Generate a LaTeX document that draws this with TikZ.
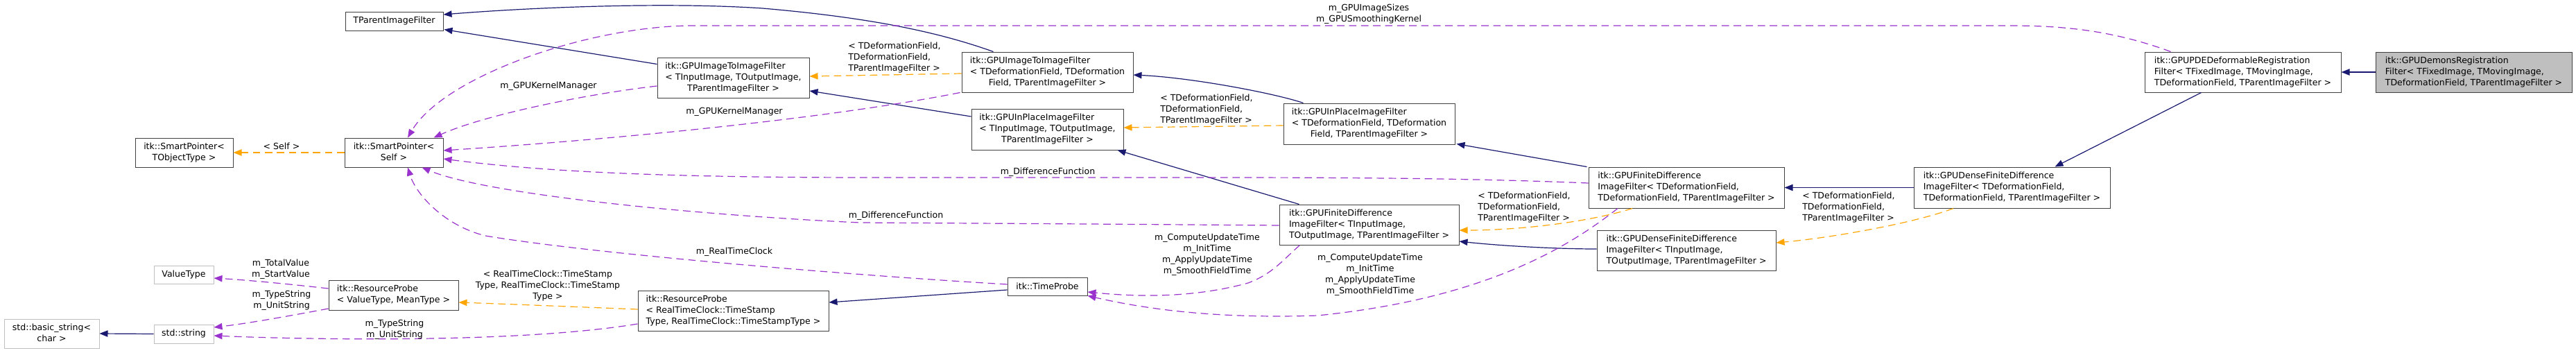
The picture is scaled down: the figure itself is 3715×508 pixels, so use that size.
\documentclass[tikz,border=0pt]{standalone}
\usepackage{fontspec}
\setmainfont{DejaVu Sans}
\usetikzlibrary{arrows.meta,calc}
\definecolor{navy}{HTML}{191970}
\definecolor{purp}{HTML}{9A32CD}
\definecolor{orng}{HTML}{FFA500}
\definecolor{boxgray}{HTML}{BFBFBF}
\definecolor{bordr}{HTML}{404040}
\newcommand\dlab[2]{\begin{tabular}{@{}l@{}}#1\\\multicolumn{1}{@{}c@{}}{#2}\end{tabular}}
\begin{document}
\begin{tikzpicture}[x=0.75pt,y=-0.75pt,
  font=\fontsize{9.4}{12}\selectfont,
  box/.style 2 args={draw=bordr,line width=0.75pt,fill=white,inner sep=0pt,
    minimum width=#1*0.75pt,minimum height=#2*0.75pt},
  gbox/.style 2 args={box={#1}{#2},draw=boxgray},
  inh/.style={navy,line width=0.9pt,-{Triangle[length=9pt,width=7pt]}},
  tmpl/.style={orng,line width=0.9pt,dash pattern=on 8pt off 5pt,-{Triangle[length=9pt,width=7pt]}},
  use/.style={purp,line width=0.9pt,dash pattern=on 8pt off 5pt,-{Triangle[length=9pt,width=7pt]}},
  lbl/.style={inner sep=0pt,align=center},
  lbll/.style={inner sep=0pt,align=left,anchor=west}]
\useasboundingbox (0,0) rectangle (3715,508);

% nodes
\node[box={141}{27}] (tpif) at (568.5,30.5) {TParentImageFilter};
\node[box={141}{42}] (spO) at (265.5,220) {\dlab{itk::SmartPointer<}{TObjectType >}};
\node[box={142}{42}] (spS) at (568,220) {\dlab{itk::SmartPointer<}{Self >}};
\node[gbox={86}{26}] (vt) at (265,396) {ValueType};
\node[box={187}{43}] (rpV) at (567.5,425.5) {\dlab{itk::ResourceProbe}{< ValueType, MeanType >}};
\node[gbox={137}{42}] (bs) at (74.5,481) {\dlab{std::basic\_string<}{char >}};
\node[gbox={86}{27}] (ss) at (265,481.5) {std::string};
\node[box={219}{58}] (gi2iI) at (1057.5,112) {\dlab{itk::GPUImageToImageFilter\\< TInputImage, TOutputImage,}{TParentImageFilter >}};
\node[box={275}{58}] (rpR) at (1057.5,448) {\dlab{itk::ResourceProbe\\< RealTimeClock::TimeStamp}{Type, RealTimeClock::TimeStampType >}};
\node[box={247}{58}] (gi2iD) at (1510.5,104) {\dlab{itk::GPUImageToImageFilter\\< TDeformationField, TDeformation}{Field, TParentImageFilter >}};
\node[box={219}{59}] (gipI) at (1510.5,186.5) {\dlab{itk::GPUInPlaceImageFilter\\< TInputImage, TOutputImage,}{TParentImageFilter >}};
\node[box={115}{26}] (tp) at (1510.5,413) {itk::TimeProbe};
\node[box={247}{59}] (gipD) at (1974.5,178.5) {\dlab{itk::GPUInPlaceImageFilter\\< TDeformationField, TDeformation}{Field, TParentImageFilter >}};
\node[box={259}{58}] (gfdI) at (1974.5,324) {\dlab{itk::GPUFiniteDifference\\ImageFilter< TInputImage,}{TOutputImage, TParentImageFilter >}};
\node[box={282}{59}] (gfdD) at (2432,270.5) {\dlab{itk::GPUFiniteDifference\\ImageFilter< TDeformationField,}{TDeformationField, TParentImageFilter >}};
\node[box={258}{58}] (gdI) at (2432,361) {\dlab{itk::GPUDenseFiniteDifference\\ImageFilter< TInputImage,}{TOutputImage, TParentImageFilter >}};
\node[box={283}{59}] (gdD) at (2901.5,270.5) {\dlab{itk::GPUDenseFiniteDifference\\ImageFilter< TDeformationField,}{TDeformationField, TParentImageFilter >}};
\node[box={283}{58}] (pde) at (3234.5,104) {\dlab{itk::GPUPDEDeformableRegistration\\Filter< TFixedImage, TMovingImage,}{TDeformationField, TParentImageFilter >}};
\node[box={283}{58},fill=boxgray] (dem) at (3567.5,104) {\dlab{itk::GPUDemonsRegistration\\Filter< TFixedImage, TMovingImage,}{TDeformationField, TParentImageFilter >}};

% inheritance (solid navy)
\draw[inh] (dem.west) -- (pde.east);
\draw[inh] ($(pde.south)+(-60,0)$) -- ($(gdD.north)+(62,0)$);
\draw[inh] (gdD.west) -- (gfdD.east);
\draw[inh] ($(gfdD.north west)+(-2,0)$) -- ($(gipD.south east)+(2,-1)$);
\draw[inh] ($(gdI.west)+(0,-2)$) .. controls (2240,359) and (2160,354) .. ($(gfdI.east)+(0,24)$);
\draw[inh] ($(gipD.north west)+(29,0)$) .. controls (1840,135) and (1720,112) .. ($(gi2iD.east)+(0,4)$);
\draw[inh] ($(gfdI.north west)+(29,0)$) -- ($(gipI.south east)+(-9,0)$);
\draw[inh] ($(gi2iD.north)+(-78,0)$) .. controls (1350,45) and (1250,25) .. (1100,12)
   .. controls (950,2) and (750,12) .. ($(tpif.east)+(0,-9.5)$);
\draw[inh] ($(gi2iI.north west)+(0,10)$) -- ($(tpif.south east)+(1,-2)$);
\draw[inh] ($(gipI.west)+(0,-18.5)$) -- ($(gi2iI.east)+(0,19)$);
\draw[inh] ($(tp.west)+(0,5)$) -- ($(rpR.east)+(0,-12)$);
\draw[inh] (ss.west) -- (bs.east);

% template instantiation (orange dashed)
\draw[tmpl] ($(gdD.south)+(-84.5,0)$) .. controls (2760,322) and (2640,343) .. ($(gdI.east)+(0,-11)$);
\node[lbll] (lab4) at (2599,299) {< TDeformationField,\\TDeformationField,\\TParentImageFilter >};
\draw[tmpl] ($(gfdD.south)+(-78,0)$) .. controls (2300,318) and (2200,332) .. ($(gfdI.east)+(0,8)$);
\node[lbll] (lab6) at (2131,299) {< TDeformationField,\\TDeformationField,\\TParentImageFilter >};
\draw[tmpl] ($(gipD.west)+(0,2.5)$) -- ($(gipI.east)+(0,-2.5)$);
\node[lbll] (lab9) at (1673,158) {< TDeformationField,\\TDeformationField,\\TParentImageFilter >};
\draw[tmpl] ($(gi2iD.west)+(0,2)$) -- ($(gi2iI.east)+(0,-2)$);
\node[lbll] (lab14) at (1223,83) {< TDeformationField,\\TDeformationField,\\TParentImageFilter >};
\draw[tmpl] ($(rpR.west)+(0,-2)$) .. controls (820,442) and (720,438) .. ($(rpV.east)+(0,10.5)$);
\node[lbl] (lab21) at (790,412) {< RealTimeClock::TimeStamp\\Type, RealTimeClock::TimeStamp\\Type >};
\draw[tmpl] (spS.west) -- (spO.east);
\node[lbl] (lab27) at (406,211) {< Self >};

% usage (purple dashed)
\draw[use] ($(pde.north west)+(38,0)$) .. controls (3050,45) and (2980,37) .. (2900,37)
   -- (1000,37) .. controls (850,37) and (640,110) .. ($(spS.north)+(20,0)$);
\node[lbl] (lab20) at (1974,20.5) {m\_GPUImageSizes\\m\_GPUSmoothingKernel};
\draw[use] ($(gi2iI.west)+(0,12)$) .. controls (850,135) and (700,165) .. ($(spS.north east)+(-14,0)$);
\node[lbl] (lab15) at (791,124) {m\_GPUKernelManager};
\draw[use] ($(gi2iD.south west)+(-2,0)$) .. controls (1200,170) and (900,200) .. ($(spS.east)+(0,-3)$);
\node[lbl] (lab16) at (1059,161) {m\_GPUKernelManager};
\draw[use] ($(gfdD.west)+(0,-6.5)$) .. controls (2100,256) and (1900,256) .. (1700,256)
   -- (1260,256) .. controls (1000,256) and (800,250) .. ($(spS.east)+(0,9)$);
\node[lbl] (lab17) at (1511,248) {m\_DifferenceFunction};
\draw[use] ($(gfdI.west)+(0,1)$) .. controls (1600,323) and (1400,322) .. (1240,321)
   .. controls (1000,310) and (700,280) .. ($(spS.south east)+(-31,0)$);
\node[lbl] (lab18) at (1292,311) {m\_DifferenceFunction};
\draw[use] ($(tp.west)+(0,-3)$) .. controls (1200,395) and (850,365) .. (700,340)
   .. controls (640,325) and (600,280) .. ($(spS.south)+(20,0)$);
\node[lbl] (lab19) at (1059,363) {m\_RealTimeClock};
\draw[use] ($(gfdD.south)+(-99,0)$) .. controls (2270,350) and (2150,430) .. (1900,455)
   .. controls (1750,460) and (1650,445) .. (tp.south east);
\node[lbl] (lab28) at (1976,396) {m\_ComputeUpdateTime\\m\_InitTime\\m\_ApplyUpdateTime\\m\_SmoothFieldTime};
\draw[use] ($(gfdI.south)+(-100,0)$) .. controls (1850,375) and (1835,395) .. (1800,408)
   .. controls (1720,430) and (1640,428) .. ($(tp.east)+(0,8)$);
\node[lbl] (lab29) at (1741,367) {m\_ComputeUpdateTime\\m\_InitTime\\m\_ApplyUpdateTime\\m\_SmoothFieldTime};
\draw[use] ($(rpV.west)+(0,-9.5)$) .. controls (420,410) and (360,404) .. ($(vt.east)+(0,5)$);
\node[lbl] (lab23) at (405,388) {m\_TotalValue\\m\_StartValue};
\draw[use] ($(rpV.west)+(0,19.5)$) .. controls (420,455) and (360,466) .. ($(ss.east)+(0,-9.5)$);
\node[lbl] (lab24) at (406,433) {m\_TypeString\\m\_UnitString};
\draw[use] ($(rpR.west)+(0,19)$) .. controls (750,495) and (450,490) .. ($(ss.east)+(0,2.5)$);
\node[lbl] (lab25) at (569,475) {m\_TypeString\\m\_UnitString};
\end{tikzpicture}
\end{document}
